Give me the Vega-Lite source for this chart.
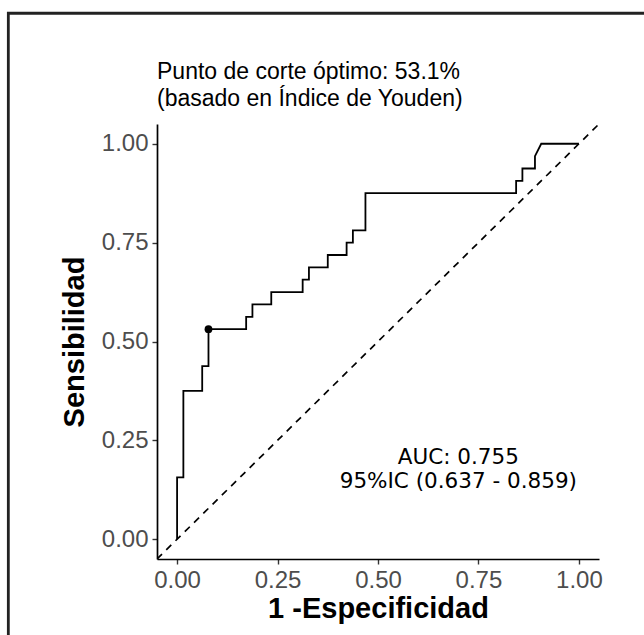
{
  "$schema": "https://vega.github.io/schema/vega-lite/v6.json",
  "width": 442,
  "height": 435,
  "autosize": "none",
  "padding": {"left": 157, "top": 124, "right": 45, "bottom": 76},
  "background": "white",
  "config": {
    "view": {"stroke": null},
    "font": "Liberation Sans",
    "axis": {
      "grid": false,
      "domainColor": "black",
      "domainWidth": 1.7,
      "tickColor": "#333333",
      "tickWidth": 1.4,
      "tickSize": 5,
      "labelColor": "#4D4D4D",
      "labelFont": "Liberation Sans",
      "labelFontSize": 24,
      "labelPadding": 4,
      "titleFont": "Liberation Sans",
      "titleFontSize": 29,
      "titleFontWeight": "bold",
      "titleColor": "black"
    },
    "title": {
      "font": "Liberation Sans",
      "fontSize": 23,
      "fontWeight": "normal",
      "color": "black",
      "anchor": "start",
      "frame": "group",
      "lineHeight": 27,
      "offset": 14
    }
  },
  "title": {"text": ["Punto de corte óptimo: 53.1%", "(basado en Índice de Youden)"], "dy": 113},
  "layer": [
    {
      "description": "reference diagonal",
      "data": {"values": [{"fpr": -0.05, "tpr": -0.05}, {"fpr": 1.05, "tpr": 1.05}]},
      "mark": {"type": "line", "color": "black", "strokeWidth": 1.7, "strokeDash": [7, 6], "clip": true},
      "encoding": {
        "x": {"field": "fpr", "type": "quantitative", "scale": {"domain": [-0.05, 1.05], "nice": false, "zero": false}},
        "y": {"field": "tpr", "type": "quantitative", "scale": {"domain": [-0.05, 1.05], "nice": false, "zero": false}}
      }
    },
    {
      "description": "ROC curve",
      "data": {"values": [
        {"fpr": 0, "tpr": 0},
        {"fpr": 0, "tpr": 0.15625},
        {"fpr": 0.015625, "tpr": 0.15625},
        {"fpr": 0.015625, "tpr": 0.375},
        {"fpr": 0.0625, "tpr": 0.375},
        {"fpr": 0.0625, "tpr": 0.4375},
        {"fpr": 0.078125, "tpr": 0.4375},
        {"fpr": 0.078125, "tpr": 0.53125},
        {"fpr": 0.171875, "tpr": 0.53125},
        {"fpr": 0.171875, "tpr": 0.5625},
        {"fpr": 0.1875, "tpr": 0.5625},
        {"fpr": 0.1875, "tpr": 0.59375},
        {"fpr": 0.234375, "tpr": 0.59375},
        {"fpr": 0.234375, "tpr": 0.625},
        {"fpr": 0.3125, "tpr": 0.625},
        {"fpr": 0.3125, "tpr": 0.65625},
        {"fpr": 0.328125, "tpr": 0.65625},
        {"fpr": 0.328125, "tpr": 0.6875},
        {"fpr": 0.375, "tpr": 0.6875},
        {"fpr": 0.375, "tpr": 0.71875},
        {"fpr": 0.421875, "tpr": 0.71875},
        {"fpr": 0.421875, "tpr": 0.75},
        {"fpr": 0.4375, "tpr": 0.75},
        {"fpr": 0.4375, "tpr": 0.78125},
        {"fpr": 0.46875, "tpr": 0.78125},
        {"fpr": 0.46875, "tpr": 0.875},
        {"fpr": 0.84375, "tpr": 0.875},
        {"fpr": 0.84375, "tpr": 0.90625},
        {"fpr": 0.859375, "tpr": 0.90625},
        {"fpr": 0.859375, "tpr": 0.9375},
        {"fpr": 0.890625, "tpr": 0.9375},
        {"fpr": 0.890625, "tpr": 0.96875},
        {"fpr": 0.90625, "tpr": 1},
        {"fpr": 1, "tpr": 1}
      ]},
      "mark": {"type": "line", "color": "black", "strokeWidth": 1.8, "strokeJoin": "miter"},
      "encoding": {
        "x": {"field": "fpr", "type": "quantitative", "title": "1 -Especificidad",
              "scale": {"domain": [-0.05, 1.05], "nice": false, "zero": false},
              "axis": {"values": [0, 0.25, 0.5, 0.75, 1], "format": ".2f", "titlePadding": 2}},
        "y": {"field": "tpr", "type": "quantitative", "title": "Sensibilidad",
              "scale": {"domain": [-0.05, 1.05], "nice": false, "zero": false},
              "axis": {"values": [0, 0.25, 0.5, 0.75, 1], "format": ".2f", "titlePadding": 12}},
        "order": {"value": null}
      }
    },
    {
      "description": "Youden optimal cut point",
      "data": {"values": [{"fpr": 0.078125, "tpr": 0.53125}]},
      "mark": {"type": "point", "filled": true, "color": "black", "size": 60, "opacity": 1},
      "encoding": {
        "x": {"field": "fpr", "type": "quantitative"},
        "y": {"field": "tpr", "type": "quantitative"}
      }
    },
    {
      "description": "AUC annotation",
      "data": {"values": [
        {"fpr": 0.7, "tpr": 0.205, "label": ["AUC: 0.755", "95%IC (0.637 - 0.859)"]}
      ]},
      "mark": {"type": "text", "fontSize": 21.5, "lineHeight": 24, "color": "black", "align": "center", "baseline": "middle", "font": "DejaVu Sans"},
      "encoding": {
        "x": {"field": "fpr", "type": "quantitative"},
        "y": {"field": "tpr", "type": "quantitative"},
        "text": {"field": "label"}
      }
    },
    {
      "description": "figure border",
      "data": {"values": [{}]},
      "mark": {"type": "rect", "fill": "transparent", "stroke": "#222222", "strokeWidth": 2.8, "clip": false},
      "encoding": {
        "x": {"datum": -0.42, "type": "quantitative", "scale": {"domain": [-0.05, 1.05], "nice": false, "zero": false}},
        "x2": {"datum": 1.2},
        "y": {"datum": 1.33, "type": "quantitative", "scale": {"domain": [-0.05, 1.05], "nice": false, "zero": false}},
        "y2": {"datum": -0.3}
      }
    }
  ]
}
